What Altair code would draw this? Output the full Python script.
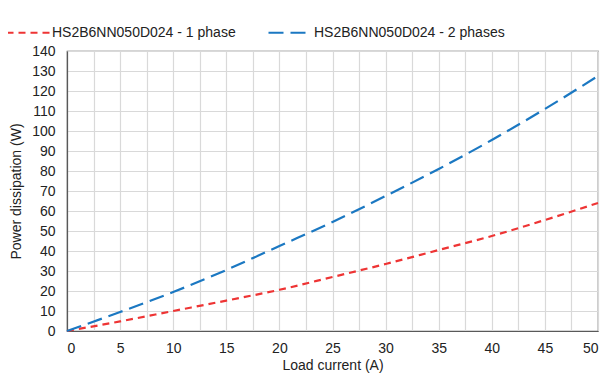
import altair as alt
import pandas as pd

current = [0, 5, 10, 15, 20, 25, 30, 35, 40, 45, 50]
p1 = [0, 4.8, 10, 15.2, 20.6, 27, 33.5, 40.5, 47.5, 55.5, 64]
p2 = [0, 9.5, 19.5, 30.5, 42.5, 54.5, 67.5, 81, 95.5, 111, 127.5]
series = ["HS2B6NN050D024 - 1 phase", "HS2B6NN050D024 - 2 phases"]
colors = ["#ee3434", "#1b78c2"]
dashes = [[7, 5], [15, 7]]

rows = []
for x, a, b in zip(current, p1, p2):
    rows.append({"I": x, "P": a, "s": series[0]})
    rows.append({"I": x, "P": b, "s": series[1]})
df = pd.DataFrame(rows)

xvals = [i * 2.5 for i in range(21)]

leg = dict(title=None, orient="none", direction="horizontal",
           legendX=-62, legendY=-42, symbolType="stroke",
           symbolSize=1936, symbolStrokeWidth=2.2,
           labelFontSize=14, labelColor="#222222", labelLimit=0,
           labelFont="Liberation Sans", labelOffset=0, columnPadding=28)

chart = alt.Chart(df).mark_line(strokeWidth=2.2, interpolate="monotone").encode(
    x=alt.X("I:Q", scale=alt.Scale(domain=[0, 50], nice=False),
            axis=alt.Axis(values=xvals, title="Load current (A)",
                          labelExpr="datum.value % 5 == 0 ? datum.label : ''")),
    y=alt.Y("P:Q", scale=alt.Scale(domain=[0, 140], nice=False),
            axis=alt.Axis(values=list(range(0, 141, 10)), title="Power dissipation (W)")),
    color=alt.Color("s:N", scale=alt.Scale(domain=series, range=colors),
                    legend=alt.Legend(**leg)),
    strokeDash=alt.StrokeDash("s:N", scale=alt.Scale(domain=series, range=dashes),
                              legend=alt.Legend(**leg)),
).properties(
    width=531, height=280,
    autosize=alt.AutoSizeParams(type="none"),
    padding={"left": 59, "top": 43, "right": 2, "bottom": 46},
).configure_view(
    stroke="#595959", strokeWidth=1.2
).configure_axis(
    grid=True, gridColor="#d9d9d9", gridWidth=1.2,
    domainColor="#595959", domainWidth=1.2,
    ticks=False, labelFont="Liberation Sans", labelFontSize=14, labelColor="#222222",
    titleFont="Liberation Sans", titleFontSize=14, titleColor="#222222", titleFontWeight="normal",
).configure_axisX(
    labelPadding=10, titlePadding=3
).configure_axisY(
    labelPadding=12, titlePadding=8
)

chart.save("out.html", embed_options={"renderer": "svg", "actions": False})
